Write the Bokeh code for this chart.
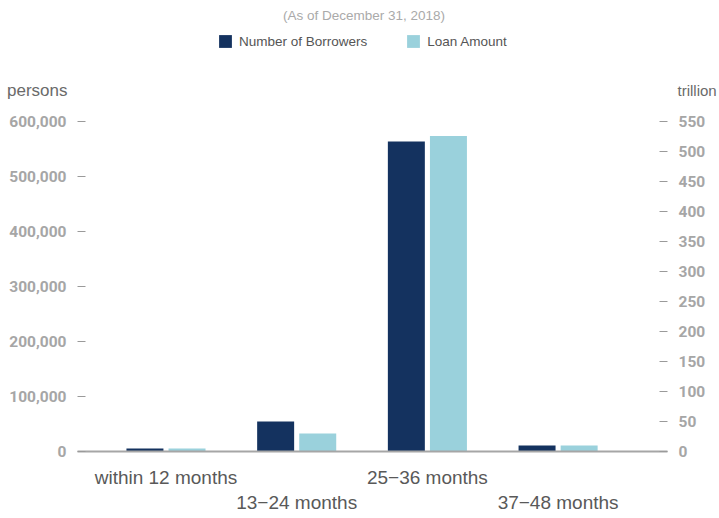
from bokeh.plotting import figure
from bokeh.layouts import column
from bokeh.models import (Range1d, LinearAxis, FixedTicker, NumeralTickFormatter,
                          Legend, LegendItem, Label, ColumnDataSource)
from bokeh.transform import dodge
from bokeh.embed import file_html
from bokeh.resources import INLINE

categories = ["within 12 months", "13\u221224 months", "25\u221236 months", "37\u221248 months"]
borrowers = [5500, 54500, 563500, 11000]
loan_amount = [5, 30, 526, 10]
left_ticks = [0, 100000, 200000, 300000, 400000, 500000, 600000]
right_ticks = [0, 50, 100, 150, 200, 250, 300, 350, 400, 450, 500, 550]
series_names = ["Number of Borrowers", "Loan Amount"]
units = ["persons", "trillion"]
subtitle = "(As of December 31, 2018)"

xs = list(range(len(categories)))
src = ColumnDataSource(dict(x=xs, borrowers=borrowers, loan=loan_amount))

NAVY = "#14325f"
LIGHT = "#9ad1dc"
SANS = "Liberation Sans"
W, H = 719, 518
HEAD_H = 100
FL, FR = 77, 667           # frame left / right in page pixels

# ---------------- header (subtitle, legend, unit labels) ----------------
h = figure(width=W, height=HEAD_H, output_backend="svg", toolbar_location=None,
           x_range=Range1d(FL, FR), y_range=Range1d(HEAD_H, 0),
           min_border_left=FL, min_border_right=W - FR, min_border_top=0, min_border_bottom=0,
           x_axis_location=None, y_axis_location=None)
h.outline_line_color = None
h.xgrid.visible = False
h.ygrid.visible = False
# legend swatches: same series, hidden renderers (legend only)
hr1 = h.vbar(x="x", top="borrowers", width=0.3, source=src, color=NAVY, line_color=None,
             visible=False)
hr2 = h.vbar(x="x", top="loan", width=0.3, source=src, color=LIGHT, line_color=None,
             visible=False)
legend = Legend(items=[LegendItem(label=series_names[0], renderers=[hr1]),
                       LegendItem(label=series_names[1], renderers=[hr2])],
                orientation="horizontal", location=(217 - FL, HEAD_H - 49),
                glyph_width=16, glyph_height=16, label_standoff=6, spacing=38,
                padding=0, margin=0, border_line_color=None, background_fill_alpha=0,
                inactive_fill_alpha=0,
                label_text_font=SANS, label_text_font_size="13.5px",
                label_text_color="#555555", label_height=16)
h.add_layout(legend, "center")
h.add_layout(Label(x=363.5, y=15, text=subtitle,
                   text_align="center", text_baseline="middle",
                   text_font=SANS, text_font_size="13.5px", text_color="#aaaaaa"))

def style_unit(ax, standoff, size):
    ax.axis_line_color = None
    ax.major_tick_line_color = None
    ax.minor_tick_line_color = None
    ax.major_tick_in = 0
    ax.major_tick_out = 0
    ax.major_label_standoff = standoff
    ax.major_label_text_font = SANS
    ax.major_label_text_font_size = size
    ax.major_label_text_color = "#6a6a6a"

ul = LinearAxis(ticker=FixedTicker(ticks=[90]), major_label_overrides={90: units[0]})
style_unit(ul, 10, "17px")
h.add_layout(ul, "left")
ur = LinearAxis(ticker=FixedTicker(ticks=[90]), major_label_overrides={90: units[1]})
style_unit(ur, 10, "15px")
h.add_layout(ur, "right")

# ---------------- main chart ----------------
p = figure(width=W, height=H - HEAD_H, output_backend="svg", toolbar_location=None,
           x_range=Range1d(-0.677, 3.837), y_range=Range1d(0, 600000),
           min_border_left=FL, min_border_right=W - FR, min_border_top=121 - HEAD_H,
           min_border_bottom=67, x_axis_location=None, y_axis_location=None)
p.outline_line_color = None
p.xgrid.visible = False
p.ygrid.visible = False
p.extra_y_ranges = {"loan": Range1d(0, 550)}

p.vbar(x=dodge("x", -0.161, range=p.x_range), top="borrowers", width=0.283,
       source=src, color=NAVY, line_color=None)
p.vbar(x=dodge("x", 0.161, range=p.x_range), top="loan", width=0.283,
       source=src, color=LIGHT, line_color=None, y_range_name="loan")

def style_y(ax):
    ax.axis_line_color = None
    ax.major_tick_in = 8
    ax.major_tick_out = 0
    ax.minor_tick_line_color = None
    ax.major_tick_line_color = "#9a9a9a"
    ax.major_label_standoff = 11
    ax.major_label_text_font = "Roboto"
    ax.major_label_text_font_style = "bold"
    ax.major_label_text_font_size = "15.5px"
    ax.major_label_text_color = "#a6a6a6"

yl = LinearAxis(ticker=FixedTicker(ticks=left_ticks), formatter=NumeralTickFormatter(format="0,0"))
style_y(yl)
p.add_layout(yl, "left")
yr = LinearAxis(y_range_name="loan", ticker=FixedTicker(ticks=right_ticks))
style_y(yr)
p.add_layout(yr, "right")

def style_x(ax, standoff):
    ax.major_tick_in = 0
    ax.major_tick_out = 0
    ax.minor_tick_line_color = None
    ax.major_label_standoff = standoff
    ax.major_label_text_font = SANS
    ax.major_label_text_font_size = "19px"
    ax.major_label_text_color = "#595959"

x1 = LinearAxis(ticker=FixedTicker(ticks=[0, 2]),
                major_label_overrides={0: categories[0], 2: categories[2]})
style_x(x1, 15)
x1.axis_line_color = "#a6a6a6"
x1.axis_line_width = 2
p.add_layout(x1, "below")
x2 = LinearAxis(ticker=FixedTicker(ticks=[1, 3]),
                major_label_overrides={1: categories[1], 3: categories[3]})
style_x(x2, 1)
x2.axis_line_color = None
p.add_layout(x2, "below")

open("out.html", "w").write(file_html(column(h, p, spacing=0), INLINE))
